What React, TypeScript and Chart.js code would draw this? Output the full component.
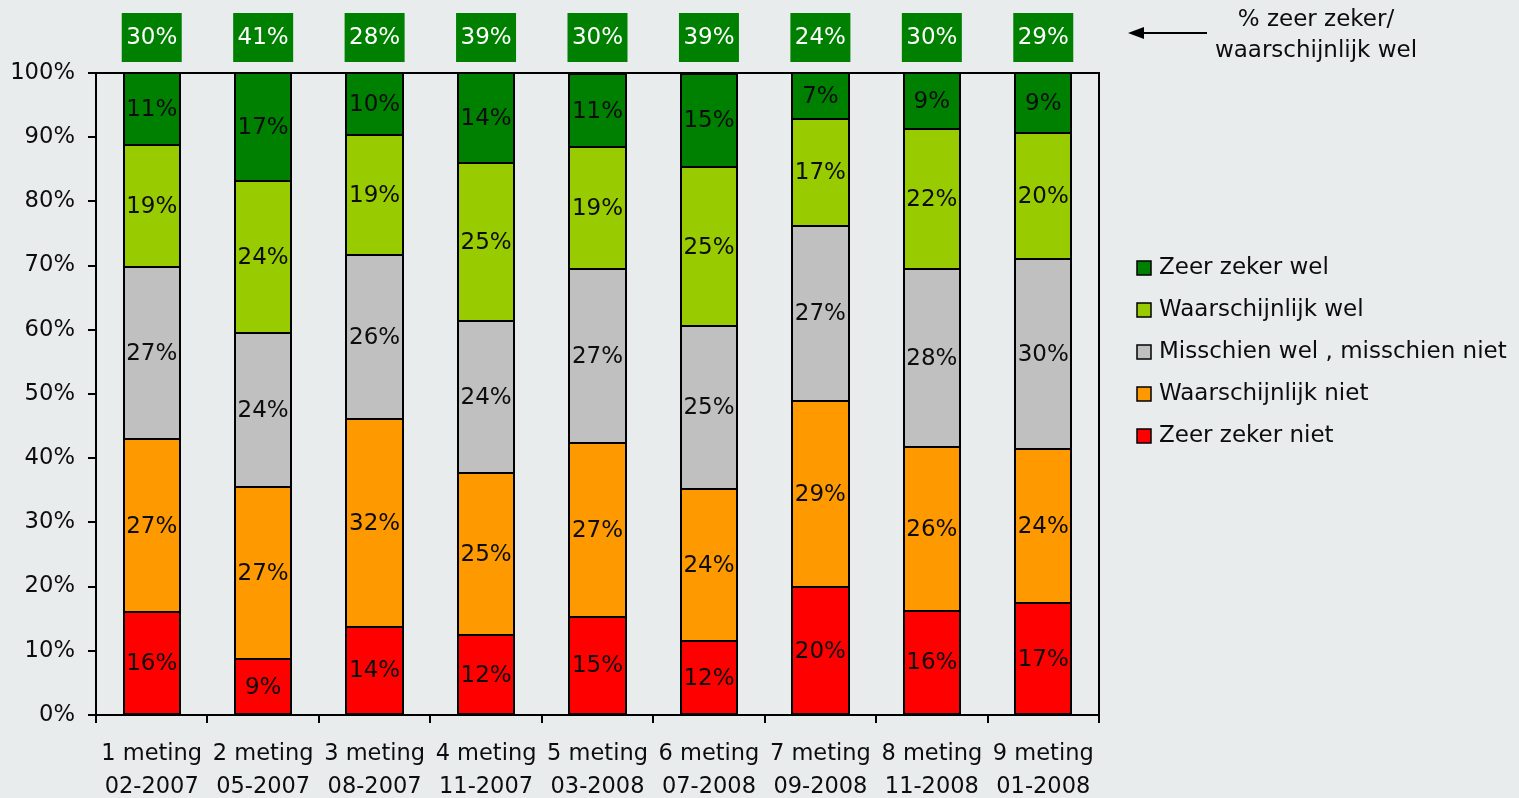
import { useEffect, useRef } from 'react';
import { Chart, registerables } from 'chart.js';
Chart.register(...registerables);

const categories = [
  ['1 meting', '02-2007'],
  ['2 meting', '05-2007'],
  ['3 meting', '08-2007'],
  ['4 meting', '11-2007'],
  ['5 meting', '03-2008'],
  ['6 meting', '07-2008'],
  ['7 meting', '09-2008'],
  ['8 meting', '11-2008'],
  ['9 meting', '01-2008'],
];
const zeerZekerNiet = [16.0, 8.7, 13.7, 12.4, 15.3, 11.5, 19.9, 16.2, 17.4];
const waarschijnlijkNiet = [27.0, 26.8, 32.4, 25.3, 27.1, 23.7, 29.0, 25.6, 24.0];
const misschien = [26.8, 24.0, 25.6, 23.7, 27.1, 25.4, 27.3, 27.7, 29.6];
const waarschijnlijkWel = [19.0, 23.7, 18.6, 24.6, 19.0, 24.7, 16.6, 21.8, 19.7];
const zeerZekerWel = [11.2, 16.8, 9.7, 14.0, 11.3, 14.6, 7.2, 8.7, 9.3];
const topTotals = [30, 41, 28, 39, 30, 39, 24, 30, 29];
const seriesNames = ['Zeer zeker niet', 'Waarschijnlijk niet', 'Misschien wel , misschien niet', 'Waarschijnlijk wel', 'Zeer zeker wel'];
const seriesColors = ['#FF0000', '#FF9900', '#C0C0C0', '#99CC00', '#008000'];
const annotationLines = ['% zeer zeker/', 'waarschijnlijk wel'];

const FONT = '"DejaVu Sans", Verdana, sans-serif';
const BG = '#E9ECED';
const TXT = '#0d0d0d';

const overlayPlugin = {
  id: 'overlay',
  afterDatasetsDraw(chart: any) {
    const ctx = chart.ctx;
    ctx.save();
    // segment outlines
    ctx.strokeStyle = '#000';
    ctx.lineWidth = 2;
    chart.data.datasets.forEach((_ds: any, di: number) => {
      const meta = chart.getDatasetMeta(di);
      meta.data.forEach((el: any) => {
        const left = Math.round(el.x - el.width / 2);
        const right = Math.round(el.x + el.width / 2);
        const top = Math.round(el.y);
        const bot = Math.round(el.base);
        ctx.strokeRect(left, top, right - left, bot - top);
      });
    });
    ctx.font = `23px ${FONT}`;
    ctx.fillStyle = TXT;
    ctx.textAlign = 'center';
    ctx.textBaseline = 'middle';
    chart.data.datasets.forEach((ds: any, di: number) => {
      const meta = chart.getDatasetMeta(di);
      meta.data.forEach((el: any, i: number) => {
        const v = ds.data[i];
        const y = (el.y + el.base) / 2;
        ctx.fillText(Math.round(v) + '%', el.x, y + 1);
      });
    });
    ctx.restore();
  },
  afterDraw(chart: any) {
    const ctx = chart.ctx;
    const a = chart.chartArea;
    const xs = chart.scales.x;
    ctx.save();
    // frame top/right
    ctx.strokeStyle = '#000';
    ctx.lineWidth = 2;
    ctx.beginPath();
    ctx.moveTo(a.left, a.top);
    ctx.lineTo(a.right, a.top);
    ctx.lineTo(a.right, a.bottom);
    ctx.stroke();
    // top boxes
    ctx.font = `23px ${FONT}`;
    ctx.textAlign = 'center';
    ctx.textBaseline = 'middle';
    topTotals.forEach((t, i) => {
      const x = xs.getPixelForValue(i);
      ctx.fillStyle = '#008000';
      ctx.fillRect(x - 30, 13, 60, 49);
      ctx.fillStyle = '#FFFFFF';
      ctx.fillText(t + '%', x, 38);
    });
    // arrow annotation
    ctx.strokeStyle = '#000';
    ctx.lineWidth = 2;
    ctx.beginPath();
    ctx.moveTo(1140, 33);
    ctx.lineTo(1207, 33);
    ctx.stroke();
    ctx.fillStyle = '#000';
    ctx.beginPath();
    ctx.moveTo(1128, 33);
    ctx.lineTo(1144, 27);
    ctx.lineTo(1144, 39);
    ctx.closePath();
    ctx.fill();
    ctx.fillStyle = TXT;
    ctx.fillText(annotationLines[0], 1316, 20);
    ctx.fillText(annotationLines[1], 1316, 51);
    // legend
    ctx.textAlign = 'left';
    const n = chart.data.datasets.length;
    for (let k = 0; k < n; k++) {
      const ds = chart.data.datasets[n - 1 - k];
      const cy = 268 + k * 42;
      ctx.fillStyle = ds.backgroundColor;
      ctx.fillRect(1137, cy - 7, 14, 14);
      ctx.strokeStyle = '#000';
      ctx.lineWidth = 1.5;
      ctx.strokeRect(1137, cy - 7, 14, 14);
      ctx.fillStyle = TXT;
      ctx.fillText(ds.label, 1159, cy);
    }
    ctx.restore();
  },
};

export default function App() {
  const ref = useRef<HTMLCanvasElement | null>(null);
  useEffect(() => {
    if (!ref.current) return;
    const seriesData = [zeerZekerNiet, waarschijnlijkNiet, misschien, waarschijnlijkWel, zeerZekerWel];
    const chart = new Chart(ref.current, {
      type: 'bar',
      data: {
        labels: categories,
        datasets: seriesData.map((d, i) => ({
          label: seriesNames[i],
          data: d,
          backgroundColor: seriesColors[i],
          borderWidth: 0,
          categoryPercentage: 1,
          barPercentage: 0.505,
        })),
      },
      options: {
        responsive: false,
        animation: false,
        layout: { padding: { left: 0, right: 420, top: 73, bottom: 0 } },
        plugins: { legend: { display: false }, tooltip: { enabled: false } },
        scales: {
          x: {
            stacked: true,
            grid: { drawOnChartArea: false, drawTicks: true, tickLength: 8, color: '#000', lineWidth: 2, offset: true },
            border: { display: true, color: '#000', width: 2 },
            ticks: { color: TXT, font: { family: FONT, size: 22.5, lineHeight: 1.47 }, padding: 15, maxRotation: 0, autoSkip: false },
            afterFit: (s: any) => { s.height = 83; },
          },
          y: {
            stacked: true,
            min: 0,
            max: 100,
            grid: { drawOnChartArea: false, drawTicks: true, tickLength: 8, color: '#000', lineWidth: 2 },
            border: { display: true, color: '#000', width: 2 },
            ticks: { stepSize: 10, color: TXT, font: { family: FONT, size: 22.7 }, padding: 13, callback: (v: any) => v + '%' },
            afterFit: (s: any) => { s.width = 96; },
          },
        },
      },
      plugins: [overlayPlugin],
    });
    return () => chart.destroy();
  }, []);
  return (
    <div style={{ position: 'absolute', left: 0, top: 0, width: 1519, height: 798, background: BG }}>
      <canvas ref={ref} width={1519} height={798} style={{ display: 'block', width: 1519, height: 798 }} />
    </div>
  );
}
